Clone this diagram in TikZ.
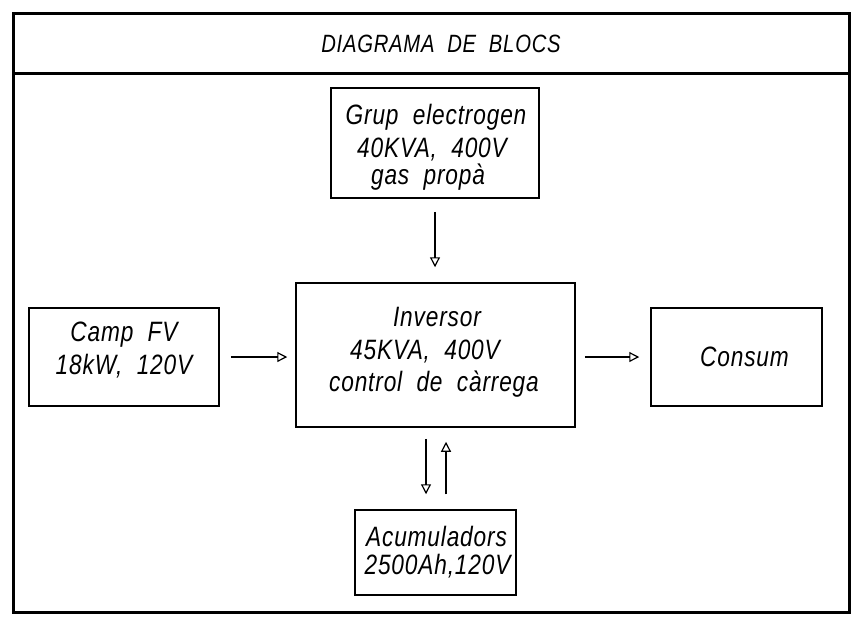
\documentclass[tikz,border=0pt]{standalone}
\usepackage{fontspec}
\newfontfamily\cadfont{Liberation Sans}[FakeStretch=0.81,LetterSpace=3,WordSpace=2]
\usetikzlibrary{arrows.meta}
\begin{document}
\begin{tikzpicture}[x=1pt,y=-1pt,
  frame/.style={line width=3pt},
  blockbox/.style={draw,line width=1.5pt,inner sep=0pt},
  txt/.style={anchor=base,inner sep=0pt,font=\cadfont\itshape\fontsize{28}{33}\selectfont},
  ttl/.style={anchor=base,inner sep=0pt,font=\cadfont\itshape\fontsize{25}{30}\selectfont},
  flow/.style={line width=1.2pt,-{Triangle[open,length=10pt,width=10pt]}}]
\useasboundingbox (0,0) rectangle (858,619);
% frame
\draw[frame] (13.5,13.5) rectangle (849,612.5);
\draw[frame] (13.5,73.5) -- (849,73.5);
\node[ttl] (title) at (441,52) {DIAGRAMA DE BLOCS};
% boxes
\node[blockbox,minimum width=208pt,minimum height=110pt] (grup) at (435,143) {};
\node[blockbox,minimum width=279pt,minimum height=144pt] (inv) at (435.5,355) {};
\node[blockbox,minimum width=190pt,minimum height=98pt] (camp) at (124,357) {};
\node[blockbox,minimum width=171pt,minimum height=98pt] (consum) at (736.5,357) {};
\node[blockbox,minimum width=161pt,minimum height=85pt] (acum) at (435.5,552.5) {};
% texts
\node[txt] (g1) at (436,124) {Grup electrogen};
\node[txt] (g2) at (432,157) {40KVA, 400V};
\node[txt] (g3) at (428,184) {gas propà};
\node[txt] (i1) at (437,326) {Inversor};
\node[txt] (i2) at (425,359) {45KVA, 400V};
\node[txt] (i3) at (434,391) {control de càrrega};
\node[txt] (c1) at (124,341) {Camp FV};
\node[txt] (c2) at (124,374) {18kW, 120V};
\node[txt] (s1) at (744.5,366) {Consum};
\node[txt] (a1) at (436.5,546) {Acumuladors};
\node[txt] (a2) at (437.5,574) {2500Ah,120V};
% connectors
\draw[flow,shorten <=13pt,shorten >=15pt] (grup.south) -- (grup.south |- inv.north);
\draw[flow,shorten <=11pt,shorten >=8pt] (camp.east) -- (camp.east -| inv.west);
\draw[flow,shorten <=9pt,shorten >=11pt] (inv.east |- consum.west) -- (consum.west);
\draw[flow,shorten <=11pt,shorten >=15pt] ([xshift=-9.5pt]inv.south) -- ([xshift=-9.5pt]inv.south |- acum.north);
\draw[flow,shorten <=15pt,shorten >=14pt] ([xshift=10.5pt]acum.north) -- ([xshift=10.5pt]acum.north |- inv.south);
\end{tikzpicture}
\end{document}
